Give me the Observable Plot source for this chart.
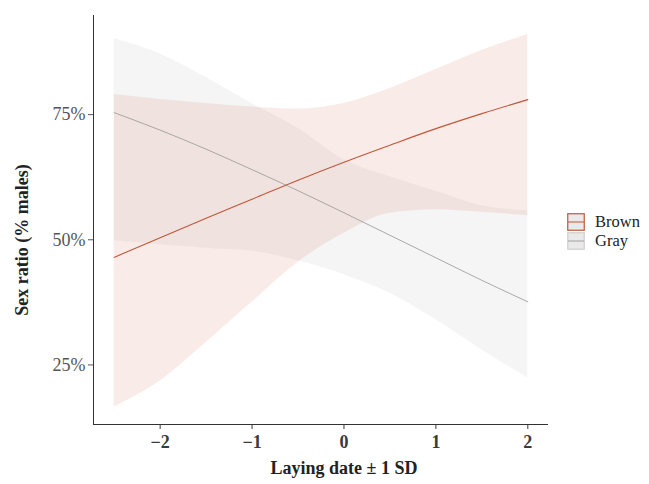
<!DOCTYPE html>
<html>
<head>
<meta charset="utf-8">
<script src="https://cdn.jsdelivr.net/npm/d3@7"></script>
<script src="https://cdn.jsdelivr.net/npm/@observablehq/plot@0.6"></script>
<style>
  html, body { margin: 0; padding: 0; background: #fff; }
  #wrap { position: relative; width: 649px; height: 484px; font-family: "Liberation Serif", "DejaVu Serif", serif; }
  .title { position: absolute; font-weight: bold; font-size: 18px; line-height: 20px; color: #222; white-space: nowrap; }
  #xtitle { left: 344px; top: 458px; transform: translateX(-50%); }
  #ytitle { left: 22px; top: 240px; transform: translate(-50%, -50%) rotate(-90deg); }
  #legend { position: absolute; left: 567px; top: 212px; font-size: 16.5px; color: #222; }
  .key { display: flex; align-items: center; height: 19px; }
  .key svg { margin-right: 10px; display: block; }
  .key span { display: block; line-height: 19px; }
</style>
</head>
<body>
<div id="wrap">
  <div id="chart"></div>
  <div class="title" id="xtitle">Laying date ± 1 SD</div>
  <div class="title" id="ytitle">Sex ratio (% males)</div>
  <div id="legend"></div>
</div>
<script>
// Laying date (standardised)
const dates = [-2.5, -2, -1.5, -1, -0.5, 0, 0.5, 1, 1.5, 2];
// Brown: fitted sex ratio (% males) and confidence band
const brownFit   = [46.5, 50.4, 54.3, 58.1, 61.9, 65.5, 68.9, 72.2, 75.2, 78.0];
const brownLower = [16.6, 21.8, 29.5, 37.5, 45.5, 51.3, 55.3, 56.0, 55.5, 54.8];
const brownUpper = [79.0, 78.0, 77.2, 76.5, 76.1, 77.2, 80.2, 84.0, 87.8, 91.0];
// Gray: fitted sex ratio (% males) and confidence band
const grayFit    = [75.4, 71.9, 68.1, 64.0, 59.8, 55.4, 50.9, 46.4, 41.9, 37.6];
const grayLower  = [49.8, 49.0, 48.3, 47.7, 45.8, 43.0, 39.3, 34.0, 28.0, 22.4];
const grayUpper  = [90.2, 87.1, 82.4, 77.2, 72.3, 66.0, 62.6, 59.7, 56.8, 55.8];
// Axis ticks
const xTicks = [-2, -1, 0, 1, 2];
const yTicks = [25, 50, 75];
const morphs = ["Brown", "Gray"];

const colors = { Brown: "#c0573a", Gray: "#a39e9e" };
const fills = { Brown: "#d9886e", Gray: "#b4b4bc" };

const rows = [];
dates.forEach((d, i) => {
  rows.push({ morph: "Brown", x: d, fit: brownFit[i], lo: brownLower[i], hi: brownUpper[i] });
  rows.push({ morph: "Gray", x: d, fit: grayFit[i], lo: grayLower[i], hi: grayUpper[i] });
});
const brownRows = rows.filter(r => r.morph === "Brown");
const grayRows = rows.filter(r => r.morph === "Gray");

const xDomain = [-2.725, 2.225];
const yDomain = [13.1, 94.8];

const chart = Plot.plot({
  width: 649,
  height: 484,
  marginLeft: 93,
  marginRight: 101,
  marginTop: 15,
  marginBottom: 60,
  style: { fontFamily: "Liberation Serif, DejaVu Serif, serif", background: "#fff" },
  x: { domain: xDomain, label: null },
  y: { domain: yDomain, label: null },
  marks: [
    Plot.areaY(grayRows, { x: "x", y1: "lo", y2: "hi", fill: fills.Gray, fillOpacity: 0.13, curve: "monotone-x" }),
    Plot.areaY(brownRows, { x: "x", y1: "lo", y2: "hi", fill: fills.Brown, fillOpacity: 0.17, curve: "monotone-x" }),
    Plot.lineY(grayRows, { x: "x", y: "fit", stroke: colors.Gray, strokeWidth: 0.9, curve: "monotone-x" }),
    Plot.lineY(brownRows, { x: "x", y: "fit", stroke: colors.Brown, strokeWidth: 1.1, curve: "monotone-x" }),
    Plot.axisX({ ticks: xTicks, tickSize: 5, tickPadding: 6, fontSize: 18, fontWeight: "bold", color: "#3a3a3a", tickFormat: d => d < 0 ? "\u2212" + Math.abs(d) : String(d), label: null }),
    Plot.axisY({ ticks: yTicks, tickSize: 5, tickPadding: 3, fontSize: 18, color: "#555", tickFormat: d => d + "%", label: null }),
    Plot.ruleX([xDomain[0]], { stroke: "#333", strokeWidth: 1 }),
    Plot.ruleY([yDomain[0]], { stroke: "#333", strokeWidth: 1 })
  ]
});
document.getElementById("chart").appendChild(chart);

// legend
const legend = document.getElementById("legend");
morphs.forEach(m => {
  const row = document.createElement("div");
  row.className = "key";
  row.innerHTML = `<svg width="18" height="18"><rect x="0.75" y="0.75" width="16.5" height="16.5" fill="#e9e9e9" stroke="${m === "Brown" ? colors.Brown : "#cfcfcf"}" stroke-width="1.2"/><line x1="1" x2="17" y1="9" y2="9" stroke="${colors[m]}" stroke-width="1"/></svg><span>${m}</span>`;
  legend.appendChild(row);
});
</script>
</body>
</html>
